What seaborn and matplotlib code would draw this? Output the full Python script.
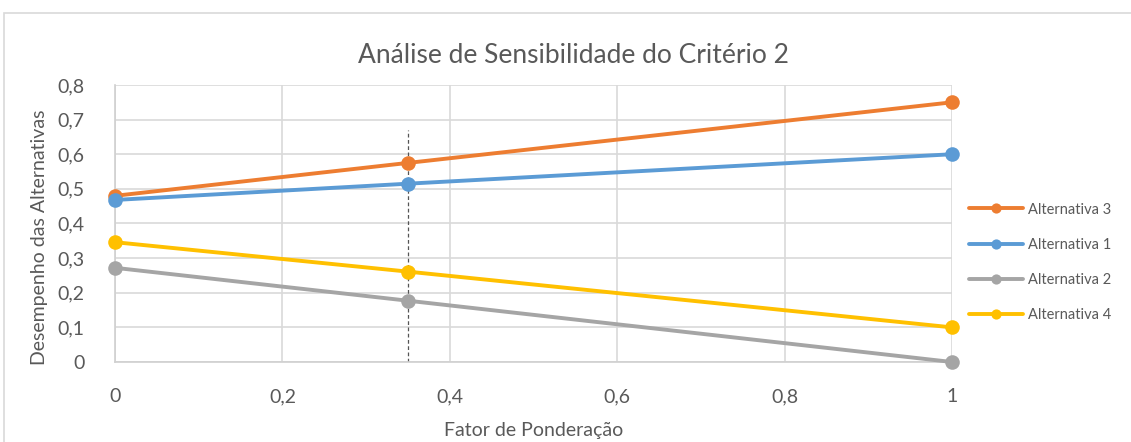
import matplotlib
matplotlib.use("Agg")
import matplotlib.pyplot as plt
import seaborn as sns
import pandas as pd
from matplotlib.patches import Rectangle
from matplotlib.ticker import FuncFormatter, MultipleLocator

# Weighting factor values and performance of each alternative
fator = [0.0, 0.35, 1.0]
alternativa_3 = [0.48, 0.575, 0.75]
alternativa_1 = [0.468, 0.515, 0.60]
alternativa_2 = [0.272, 0.177, 0.0]
alternativa_4 = [0.346, 0.261, 0.10]

series_names = ["Alternativa 3", "Alternativa 1", "Alternativa 2", "Alternativa 4"]
series_values = [alternativa_3, alternativa_1, alternativa_2, alternativa_4]
series_colors = ["#ED7D31", "#5B9BD5", "#A5A5A5", "#FFC000"]

# Current weight reference line
peso_atual = 0.35
peso_linha_topo = 0.67

sns.set_theme(style="white")
plt.rcParams["font.family"] = ["Lato", "DejaVu Sans"]

fig = plt.figure(figsize=(11.31, 4.42), dpi=100)
ax = fig.add_axes([0.1017, 0.181, 0.74, 0.6267])

# Outer chart frame
fig.patches.append(Rectangle((0.0035, -0.01), 1.0, 0.981, transform=fig.transFigure,
                             fill=False, edgecolor="#d9d9d9", linewidth=1.2))

for name, vals, col in zip(series_names, series_values, series_colors):
    df = pd.DataFrame({"fator": fator, "valor": vals})
    sns.lineplot(data=df, x="fator", y="valor", ax=ax, color=col, linewidth=2.8,
                 marker="o", markersize=10.5, markeredgewidth=0, label=name,
                 clip_on=False, zorder=3)

ax.vlines(peso_atual, 0, peso_linha_topo, colors="#555555", linestyles=(0, (3, 2)),
          linewidth=0.9, zorder=2)

ax.set_xlim(0, 1)
ax.set_ylim(0, 0.8)
ax.xaxis.set_major_locator(MultipleLocator(0.2))
ax.yaxis.set_major_locator(MultipleLocator(0.1))
fmt = FuncFormatter(lambda v, p: ("%g" % round(v, 2)).replace(".", ","))
ax.xaxis.set_major_formatter(fmt)
ax.yaxis.set_major_formatter(fmt)

ax.grid(True, color="#d9d9d9", linewidth=1.2)
ax.set_axisbelow(True)
for side in ["top", "right"]:
    ax.spines[side].set_visible(False)
for side in ["left", "bottom"]:
    ax.spines[side].set_color("#d0d0d0")
    ax.spines[side].set_linewidth(1.2)

ax.tick_params(axis="both", length=0, labelsize=14, colors="#595959")
ax.tick_params(axis="x", pad=19)
ax.tick_params(axis="y", pad=22)

# Title centred on the whole chart area rather than the plot area
ax.set_title("Análise de Sensibilidade do Critério 2", fontsize=19, color="#595959",
             pad=16, x=0.548)
ax.set_xlabel("Fator de Ponderação", fontsize=14, color="#595959", labelpad=12)
ax.set_ylabel("Desempenho das Alternativas", fontsize=14, color="#595959")
ax.yaxis.set_label_coords(-0.08, 0.45)

leg = ax.legend(loc="center left", bbox_to_anchor=(1.005, 0.36), frameon=False,
                fontsize=10.5, handlelength=3.7, labelspacing=1.45, handletextpad=0.3,
                markerscale=0.7)
for t in leg.get_texts():
    t.set_color("#595959")

fig.savefig("out.png", dpi=100)
